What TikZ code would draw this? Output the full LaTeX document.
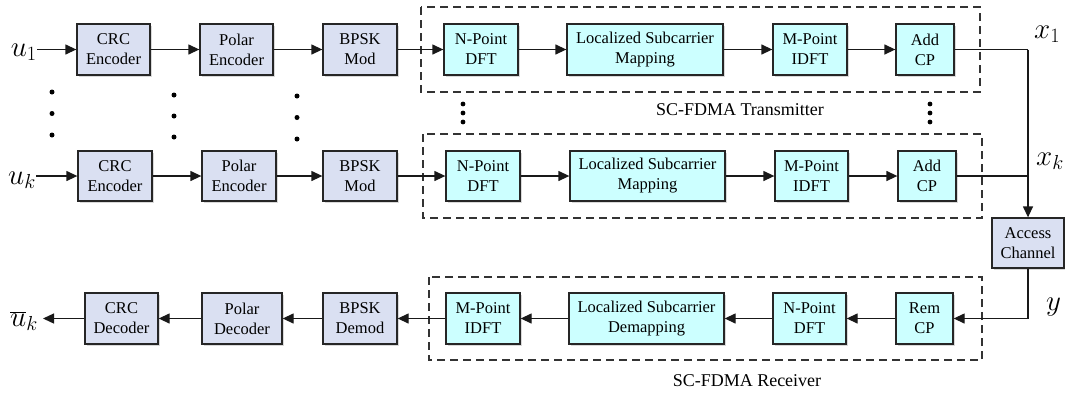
\documentclass[tikz,border=0pt]{standalone}
\usepackage{fix-cm}
\usepackage{fontspec}
\usepackage{graphicx}
\newfontfamily\tnr{Liberation Serif}
\usetikzlibrary{arrows.meta,shadows}
\definecolor{lav}{HTML}{DAE0F2}
\definecolor{cyn}{HTML}{CCFFFF}
\newcommand{\mlab}[1]{\fontsize{29}{29}\selectfont$#1$}
\begin{document}
\begin{tikzpicture}[x=1pt,y=-1pt,
  blk/.style={draw=black!85, line width=1.3pt, minimum height=51pt, inner sep=0pt, align=center,
    font=\tnr\fontsize{16.5}{20}\selectfont,
    drop shadow={shadow xshift=1.5pt,shadow yshift=-1.5pt,opacity=0.15,fill=black}},
  lavbox/.style={blk, fill=lav},
  cynbox/.style={blk, fill=cyn},
  arr/.style={-{Triangle[length=11pt,width=10pt]}, line width=1.3pt, draw=black!90},
  wire/.style={line width=1.3pt, draw=black!90},
  dbox/.style={dash pattern=on 8pt off 5pt, line width=1.1pt, draw=black!80},
  lbl/.style={font=\tnr\fontsize{16.5}{20}\selectfont, inner sep=0pt},
  dotc/.style={fill=black, draw=none}
]
\useasboundingbox (0,0) rectangle (1065,392);

% dashed frames
\draw[dbox] (421,7) rectangle (980,92);
\draw[dbox] (423,134) rectangle (982,218);
\draw[dbox] (429,277) rectangle (982,360);

% top row
\node[lavbox, minimum width=73pt] (crc1) at (113.5,49.5) {CRC\\Encoder};
\node[lavbox, minimum width=73pt] (pol1) at (236.5,49.5) {Polar\\Encoder};
\node[lavbox, minimum width=74pt] (bpsk1) at (360,49.5) {BPSK\\Mod};
\node[cynbox, minimum width=74pt] (dft1) at (481,49.5) {N-Point\\DFT};
\node[cynbox, minimum width=156pt] (map1) at (645,49.5) {Localized Subcarrier\\Mapping};
\node[cynbox, minimum width=74pt] (idft1) at (810,49.5) {M-Point\\IDFT};
\node[cynbox, minimum width=58pt] (cp1) at (925,49.5) {Add\\CP};

% middle row
\node[lavbox, minimum width=74pt, minimum height=50pt] (crc2) at (115,176) {CRC\\Encoder};
\node[lavbox, minimum width=74pt, minimum height=50pt] (pol2) at (239,176) {Polar\\Encoder};
\node[lavbox, minimum width=74pt, minimum height=50pt] (bpsk2) at (360,176) {BPSK\\Mod};
\node[cynbox, minimum width=74pt, minimum height=50pt] (dft2) at (483,176) {N-Point\\DFT};
\node[cynbox, minimum width=155pt, minimum height=50pt] (map2) at (647.5,176) {Localized Subcarrier\\Mapping};
\node[cynbox, minimum width=73pt, minimum height=50pt] (idft2) at (811.5,176) {M-Point\\IDFT};
\node[cynbox, minimum width=58pt, minimum height=50pt] (cp2) at (927,176) {Add\\CP};

% receiver row
\node[lavbox, minimum width=73pt] (crcd) at (121.5,318.5) {CRC\\Decoder};
\node[lavbox, minimum width=80pt] (pold) at (242,318.5) {Polar\\Decoder};
\node[lavbox, minimum width=74pt] (bpskd) at (360,318.5) {BPSK\\Demod};
\node[cynbox, minimum width=74pt] (idftd) at (483,318.5) {M-Point\\IDFT};
\node[cynbox, minimum width=155pt] (demap) at (646.5,318.5) {Localized Subcarrier\\Demapping};
\node[cynbox, minimum width=73pt] (dftd) at (809.5,318.5) {N-Point\\DFT};
\node[cynbox, minimum width=57pt] (remcp) at (924.5,318.5) {Rem\\CP};

% access channel
\node[lavbox, minimum width=72pt, minimum height=50pt] (acc) at (1028,243) {Access\\Channel};

% signal labels
\node[inner sep=0pt, anchor=east] (u1) at (37,52) {\mlab{u_1}};
\node[inner sep=0pt, anchor=east] (uk) at (36,180) {\mlab{u_k}};
\node[inner sep=0pt, anchor=east] (ubar) at (38,321) {\mlab{\overline{u}_k}};
\node[inner sep=0pt, anchor=west] (x1) at (1034,34) {\mlab{x_1}};
\node[inner sep=0pt, anchor=west] (xk) at (1036,161) {\mlab{x_k}};
\node[inner sep=0pt, anchor=west] (ylab) at (1046,307) {\mlab{y}};

% frame captions
\node[lbl] (txcap) at (740,110) {\scalebox{1.09}{SC-FDMA Transmitter}};
\node[lbl] (rxcap) at (747,381) {\scalebox{1.09}{SC-FDMA Receiver}};

% dots
\foreach \yy in {92,113.5,135} \fill[dotc] (52,\yy) circle (2.5pt);
\foreach \yy in {95,116,137} \fill[dotc] (174,\yy) circle (2.5pt);
\foreach \yy in {96,117.5,139} \fill[dotc] (297,\yy) circle (2.5pt);
\foreach \yy in {104,113,122} \fill[dotc] (463,\yy) circle (2.4pt);
\foreach \yy in {104,113,122} \fill[dotc] (930,\yy) circle (2.4pt);

% top row connectors
\draw[arr] (u1.east |- crc1.west) -- (crc1.west);
\draw[arr] (crc1) -- (pol1);
\draw[arr] (pol1) -- (bpsk1);
\draw[arr] (bpsk1) -- (dft1);
\draw[arr] (dft1) -- (map1);
\draw[arr] (map1) -- (idft1);
\draw[arr] (idft1) -- (cp1);

% middle row connectors
\draw[arr] (uk.east |- crc2.west) -- (crc2.west);
\draw[arr] (crc2) -- (pol2);
\draw[arr] (pol2) -- (bpsk2);
\draw[arr] (bpsk2) -- (dft2);
\draw[arr] (dft2) -- (map2);
\draw[arr] (map2) -- (idft2);
\draw[arr] (idft2) -- (cp2);

% to the channel
\coordinate (j1) at (1028,49.5);
\draw[wire] (cp1.east) -- (j1);
\draw[arr] (j1) -- (acc.north);
\draw[wire] (cp2.east) -- (cp2.east -| j1);
\draw[arr] (acc.south) |- (remcp.east);

% receiver connectors
\draw[arr] (remcp) -- (dftd);
\draw[arr] (dftd) -- (demap);
\draw[arr] (demap) -- (idftd);
\draw[arr] (idftd) -- (bpskd);
\draw[arr] (bpskd) -- (pold);
\draw[arr] (pold) -- (crcd);
\draw[arr] (crcd.west) -- ([xshift=5pt]ubar.east |- crcd.west);
\end{tikzpicture}
\end{document}
